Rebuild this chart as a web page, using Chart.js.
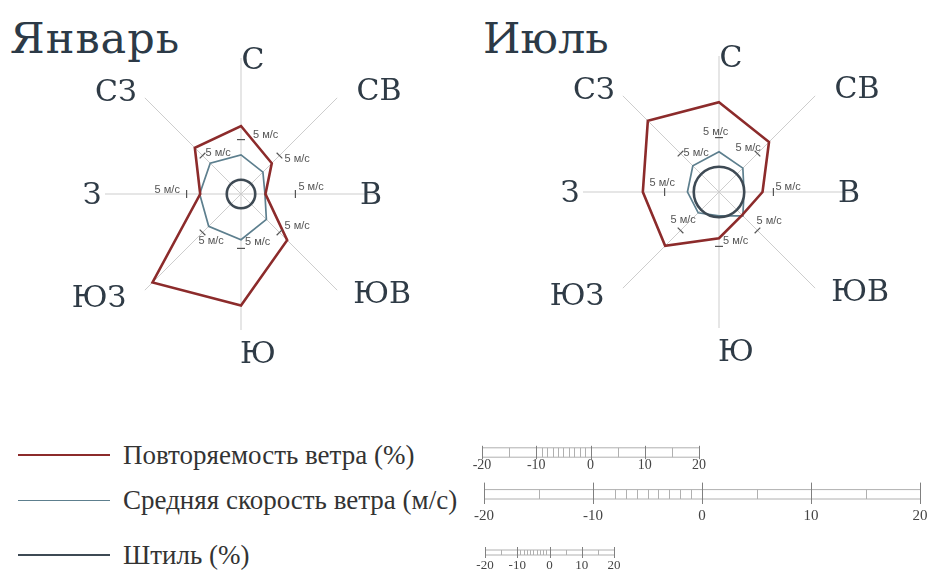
<!DOCTYPE html>
<html>
<head>
<meta charset="utf-8">
<script src="https://cdn.jsdelivr.net/npm/chart.js@4.4.1/dist/chart.umd.min.js"></script>
<style>
  html, body { margin: 0; padding: 0; background: #fff; width: 928px; height: 570px; overflow: hidden; }
  canvas { position: absolute; }
  .title { position: absolute; font-family: "DejaVu Serif"; font-size: 43px; line-height: 1; color: #2c3a47; }
  .leg { position: absolute; left: 18px; height: 0; display: flex; align-items: center; }
  .leg i { display: block; width: 92px; border-top: 2px solid; }
  .leg span { margin-left: 13px; font-family: "Liberation Serif"; font-size: 27px; color: #333; white-space: nowrap; }
</style>
</head>
<body>
<div class="title" style="left:10px;top:17px;letter-spacing:1px">Январь</div>
<div class="title" style="left:483px;top:17px">Июль</div>

<canvas id="jan" width="480" height="400" style="left:0;top:0"></canvas>
<canvas id="jul" width="450" height="400" style="left:478px;top:0"></canvas>

<div class="leg" style="top:455px"><i style="border-color:#8c2b2b"></i><span>Повторяемость ветра (%)</span></div>
<div class="leg" style="top:500px"><i style="border-color:#5d7f8e;border-top-width:1.5px"></i><span>Средняя скорость ветра (м/с)</span></div>
<div class="leg" style="top:555px"><i style="border-color:#3e4a54"></i><span>Штиль (%)</span></div>

<canvas id="barFreq" width="257" height="50" style="left:462px;top:424px"></canvas>
<canvas id="barSpeed" width="476" height="50" style="left:464px;top:474px"></canvas>
<canvas id="barCalm" width="169" height="40" style="left:465px;top:535px"></canvas>

<script>
// румбы
const directions = ['С', 'СВ', 'В', 'ЮВ', 'Ю', 'ЮЗ', 'З', 'СЗ'];

// январь
const janFrequency = [12.5, 8, 4.5, 12, 20.5, 23, 7.5, 12];   // %
const janSpeed = [3.6, 2.85, 2.2, 3.3, 4.2, 4.2, 3.8, 4.0];   // м/с
const janCalm = 4.4;                                          // %

// июль
const julFrequency = [16.5, 13, 8, 6, 8.5, 14, 14, 18.5];
const julSpeed = [3.7, 3.1, 2.3, 3.1, 2.2, 2.7, 2.9, 3.4];
const julCalm = 7.8;

const speedMark = 5;
const speedMarkLabel = '5 м/с';

// линейки масштаба
const barTickLabels = [-20, -10, 0, 10, 20];
const barMidTicks = [-15, 5, 15];
const freqMinorTicks = [-9, -8, -7, -6, -5, -4, -3, -2, -1];
const speedMinorTicks = [-8, -7, -6, -5, -4, -3, -2, -1];
const calmMinorTicks = [-9, -8, -7, -6, -5, -4, -3, -2, -1];

const compassNudge = [[12, 17], [32, 4], [-20, 2], [35, -5], [17, 11], [-36, -1], [1, 2], [-19, 5]];

const rosePlugin = {
  id: 'rose',
  afterDatasetsDraw(chart, args, opts) {
    const ctx = chart.ctx;
    const rs = chart.scales.s, rc = chart.scales.c;
    ctx.save();
    // штиль
    ctx.beginPath();
    ctx.arc(rc.xCenter, rc.yCenter, rc.getDistanceFromCenterForValue(opts.calm), 0, Math.PI * 2);
    ctx.strokeStyle = '#3e4a54';
    ctx.lineWidth = 2.6;
    ctx.stroke();
    // отметки 5 м/с
    const d = rs.getDistanceFromCenterForValue(speedMark);
    ctx.font = '11px "Liberation Sans"';
    ctx.textBaseline = 'middle';
    ctx.textAlign = 'left';
    directions.forEach((_, i) => {
      const p = rs.getPointPosition(i, d);
      const nx = -Math.sin(p.angle), ny = Math.cos(p.angle);
      ctx.beginPath();
      ctx.moveTo(p.x - nx * 4, p.y - ny * 4);
      ctx.lineTo(p.x + nx * 4, p.y + ny * 4);
      ctx.strokeStyle = '#555';
      ctx.lineWidth = 1.2;
      ctx.stroke();
      const sh = opts.markShift[i];
      ctx.fillStyle = '#555';
      ctx.fillText(speedMarkLabel, p.x + sh[0], p.y + sh[1]);
    });
    // подписи румбов
    ctx.font = '30px "DejaVu Serif"';
    ctx.fillStyle = '#2f3b46';
    ctx.textAlign = 'center';
    directions.forEach((lab, i) => {
      const p = rs.getPointPosition(i, 150);
      ctx.fillText(lab, p.x + compassNudge[i][0], p.y + compassNudge[i][1]);
    });
    ctx.restore();
  }
};

const hiddenRadial = (max) => ({
  type: 'radialLinear', axis: 'r', min: 0, max: max,
  ticks: { display: false }, grid: { display: false },
  pointLabels: { display: false }, angleLines: { display: false }
});

function roseChart(id, freq, speed, calm, markShift, pad) {
  return new Chart(document.getElementById(id), {
    type: 'radar',
    data: {
      labels: directions,
      datasets: [
        { label: 'Повторяемость ветра (%)', data: freq, rAxisID: 'r', borderColor: '#8c2b2b', borderWidth: 2.6, fill: false, pointRadius: 0, tension: 0 },
        { label: 'Средняя скорость ветра (м/с)', data: speed, rAxisID: 's', borderColor: '#5d7f8e', borderWidth: 1.7, fill: false, pointRadius: 0, tension: 0 }
      ]
    },
    options: {
      responsive: false,
      animation: false,
      layout: { padding: pad },
      plugins: { legend: { display: false }, tooltip: { enabled: false }, rose: { calm: calm, markShift: markShift } },
      scales: {
        r: {
          min: 0, max: 25,
          ticks: { display: false }, grid: { display: false },
          pointLabels: { display: false },
          angleLines: { color: '#cdcdcd', lineWidth: 1 }
        },
        s: hiddenRadial(12.5),
        c: hiddenRadial(42)
      }
    },
    plugins: [rosePlugin]
  });
}

roseChart('jan', janFrequency, janSpeed, janCalm,
  [[12, -5], [5, 3], [3, -7], [5, -6], [4, -6], [-4, 9], [-32, -4], [3, -3]],
  { left: 105, right: 103, top: 58, bottom: 70 });
roseChart('jul', julFrequency, julSpeed, julCalm,
  [[-16, -6], [-22, -6], [2, -5], [-1, -9], [4, -5], [-10, -10], [-15, -9], [3, -1]],
  { left: 105, right: 73, top: 56, bottom: 72 });

const barPlugin = {
  id: 'scalebar',
  afterDraw(chart, args, o) {
    const x = chart.scales.x, ctx = chart.ctx;
    const px = v => Math.round(x.getPixelForValue(v)) + 0.5;
    const y2 = x.top, y1 = x.top - o.sep;
    const a = px(barTickLabels[0]), b = px(barTickLabels[barTickLabels.length - 1]);
    ctx.save();
    ctx.lineWidth = 1;
    ctx.strokeStyle = '#b0b0b0';
    ctx.beginPath();
    ctx.moveTo(a, y1); ctx.lineTo(b, y1);
    ctx.moveTo(a, y2); ctx.lineTo(b, y2);
    barMidTicks.concat(o.minor).forEach(v => { ctx.moveTo(px(v), y1); ctx.lineTo(px(v), y2); });
    ctx.stroke();
    ctx.strokeStyle = '#808080';
    ctx.beginPath();
    barTickLabels.forEach(v => { ctx.moveTo(px(v), y1 - o.up); ctx.lineTo(px(v), y2 + o.down); });
    ctx.stroke();
    ctx.restore();
  }
};

function scaleBar(id, minor, fontSize, padding, sep, up, down) {
  return new Chart(document.getElementById(id), {
    type: 'scatter',
    data: { datasets: [] },
    options: {
      responsive: false,
      animation: false,
      layout: { padding: { left: 20, right: 20, top: 0, bottom: 0 } },
      plugins: { legend: { display: false }, tooltip: { enabled: false }, scalebar: { minor: minor, sep: sep, up: up, down: down } },
      scales: {
        x: {
          type: 'linear',
          min: barTickLabels[0], max: barTickLabels[barTickLabels.length - 1],
          afterBuildTicks: s => { s.ticks = barTickLabels.map(v => ({ value: v })); },
          ticks: { font: { family: 'Liberation Serif', size: fontSize }, color: '#444', padding: padding, maxRotation: 0 },
          grid: { display: false, drawTicks: false },
          border: { display: false }
        },
        y: { display: false }
      }
    },
    plugins: [barPlugin]
  });
}

scaleBar('barFreq', freqMinorTicks, 14, 0, 9.4, 2, 2);
scaleBar('barSpeed', speedMinorTicks, 15, 8, 9.4, 7, 5);
scaleBar('barCalm', calmMinorTicks, 13, 3, 5, 3, 3);
</script>
</body>
</html>
